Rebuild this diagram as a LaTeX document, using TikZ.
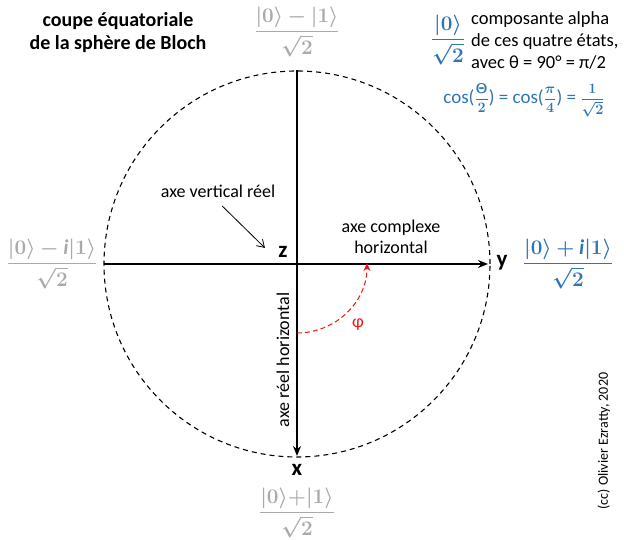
\documentclass[tikz,border=0pt]{standalone}
\usepackage{fontspec}
\setmainfont{Carlito}
\usepackage{amsmath,bm}
\usetikzlibrary{arrows.meta}
\definecolor{etatgris}{RGB}{170,170,170}
\definecolor{etatbleu}{RGB}{46,117,182}
\definecolor{phirouge}{RGB}{240,20,20}
\newcommand{\petitfrac}[2]{{\fontsize{14}{14}\selectfont$\dfrac{\bm{#1}}{\bm{#2}}$}}
\begin{document}
\begin{tikzpicture}[x=1pt,y=1pt,
    axe/.style={line width=1.6pt,-{Stealth[length=10pt,width=8pt]}},
    nomaxe/.style={font=\fontsize{23}{25}\selectfont\bfseries},
    etat/.style={font=\fontsize{21}{23}\selectfont},
    legende/.style={font=\fontsize{18}{21}\selectfont,align=center}]
	\useasboundingbox (0,0) rectangle (624,540);
	% cercle equatorial
	\coordinate (O) at (297,276);
	\draw[dashed,line width=1.1pt,dash pattern=on 5pt off 4pt] (O) circle (193);
	\coordinate (gauche) at (104,276);
	\coordinate (droite) at (488,276);
	\coordinate (haut) at (297,470);
	\coordinate (bas) at (297,84);
	\draw[axe] (gauche) -- (droite);
	\draw[axe] (haut) -- (bas);
	% noms des axes
	\node[nomaxe] (z) at (283,288) {z};
	\node[nomaxe] (y) at (502,277) {y};
	\node[nomaxe] (x) at (297,70) {x};
	\node[legende] (vert) at (218,349) {axe vertical réel};
	\draw[line width=0.8pt,-{Straight Barb[length=7pt,width=9pt]}] ([shift={(4,-5)}]vert.south) -- ([shift={(-10,-5)}]z.north west);
	\node[legende] (cplx) at (391,303) {axe complexe\\horizontal};
	\node[legende,rotate=90] (reel) at (283,180) {axe réel horizontal};
	% angle phi
	\coordinate (phistart) at (297,207);
	\coordinate (phiend) at (367,277);
	\draw[phirouge,dashed,line width=1pt,dash pattern=on 5pt off 3pt,-{Stealth[length=8pt,width=7pt]}]
		(phistart) to[out=0,in=-90] (phiend);
	\node[phirouge,font=\fontsize{18}{20}\selectfont] (phi) at (358,215) {φ};
	% les quatre etats
	\node[etat,etatgris] (ehaut) at (297,508) {$\dfrac{\bm{|0\rangle-|1\rangle}}{\bm{\sqrt{2}}}$};
	\node[etat,etatgris] (egauche) at (52,276) {$\dfrac{\bm{|0\rangle-\mathit{i}|1\rangle}}{\bm{\sqrt{2}}}$};
	\node[etat,etatbleu] (edroite) at (568,276) {$\dfrac{\bm{|0\rangle+\mathit{i}|1\rangle}}{\bm{\sqrt{2}}}$};
	\node[etat,etatgris] (ebas) at (297,27) {$\dfrac{\bm{|0\rangle{+}|1\rangle}}{\bm{\sqrt{2}}}$};
	% titre et commentaires
	\node[font=\fontsize{20}{23}\selectfont\bfseries,align=center] (titre) at (118,507) {coupe équatoriale\\de la sphère de Bloch};
	\node[etat,etatbleu] (alpha) at (448,500) {$\dfrac{\bm{|0\rangle}}{\bm{\sqrt{2}}}$};
	\node[font=\fontsize{18.5}{22}\selectfont,align=left,anchor=west,inner xsep=2pt] (compo) at (469,500) {composante alpha\\de ces quatre états,\\avec θ = 90° = π/2};
	\node[etatbleu,font=\fontsize{19}{21}\selectfont] (cos) at (524,440)
		{cos(\petitfrac{\mathsf{Θ}}{2}) = cos(\petitfrac{\pi}{4}) = \petitfrac{1}{\sqrt{2}}};
	\node[font=\fontsize{14}{16}\selectfont,rotate=90] (cc) at (604,99) {(cc) Olivier Ezratty, 2020};
\end{tikzpicture}
\end{document}
